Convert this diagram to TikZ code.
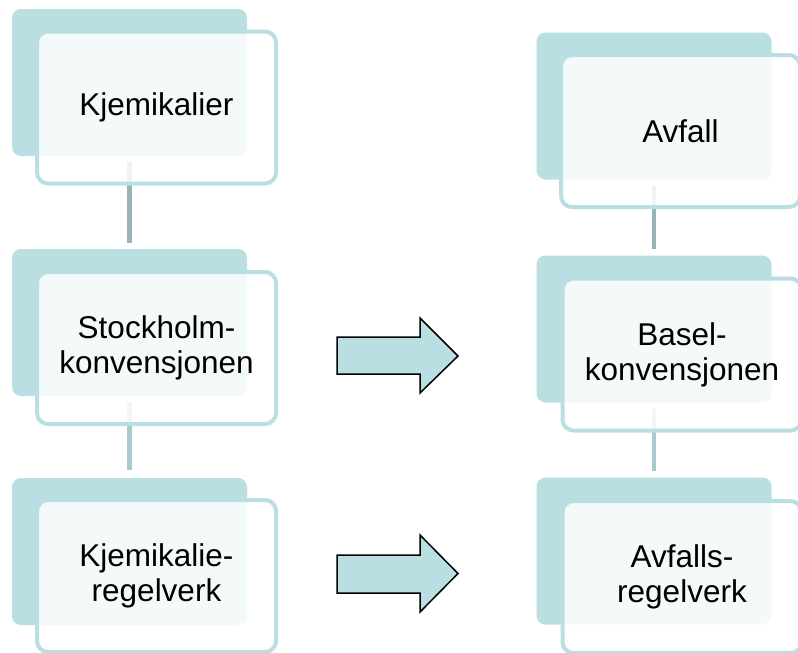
\documentclass[tikz,border=0pt]{standalone}
\usepackage{fontspec}
\setmainfont{Liberation Sans}
\begin{document}
\begin{tikzpicture}[x=1pt,y=-1pt,
  backbox/.style={rectangle, rounded corners=9pt, fill=tealA, draw=none,
    minimum width=235pt, minimum height=147pt, inner sep=0pt},
  frontbox/.style={rectangle, rounded corners=11pt, draw=tealA, line width=4pt,
    fill=white, fill opacity=0.85, text opacity=1, minimum width=239pt,
    minimum height=152pt, inner sep=0pt, align=center,
    font=\fontsize{31.5}{35}\selectfont},
  connA/.style={draw=connGray, line width=4.5pt},
  connB/.style={draw=connTeal, line width=4.5pt},
  bigarrow/.style={fill=tealA, draw=black, line width=1.5pt, line join=miter}
]
\definecolor{tealA}{HTML}{B9DFE2}
\definecolor{connGray}{HTML}{99B4B8}
\definecolor{connTeal}{HTML}{A6CBCF}
\useasboundingbox (0,0) rectangle (798,653);
\fill[white] (0,0) rectangle (798,653);

% back boxes
\node[backbox] (lb1) at (129.5,82.5) {};
\node[backbox] (lb2) at (129.5,322.5) {};
\node[backbox] (lb3) at (129.5,551.5) {};
\node[backbox] (rb1) at (654,106) {};
\node[backbox] (rb2) at (654,329) {};
\node[backbox] (rb3) at (654,551) {};

% connectors
\draw[connA] ([yshift=-6pt]lb1.south) -- ([yshift=6pt]lb2.north);
\draw[connB] ([yshift=-6pt]lb2.south) -- ([yshift=8pt]lb3.north);
\draw[connA] ([yshift=-6pt]rb1.south) -- ([yshift=6pt]rb2.north);
\draw[connB] ([yshift=-6pt]rb2.south) -- ([yshift=6pt]rb3.north);

% front boxes
\node[frontbox] (lf1) at (156.5,107.5) {Kjemikalier};
\node[frontbox] (lf2) at (156.5,348) {Stockholm-\\konvensjonen};
\node[frontbox] (lf3) at (156.5,576) {Kjemikalie-\\regelverk};
\node[frontbox] (rf1) at (680.5,131) {Avfall};
\node[frontbox] (rf2) at (682,354.5) {Basel-\\konvensjonen};
\node[frontbox] (rf3) at (682,577) {Avfalls-\\regelverk};

% block arrows
\draw[bigarrow] (337,337) -- (420,337) -- (420,318) -- (458,356) -- (420,393)
  -- (420,374) -- (337,374) -- cycle;
\draw[bigarrow] (337,555) -- (420,555) -- (420,535) -- (458,573.5) -- (420,612)
  -- (420,593) -- (337,593) -- cycle;
\end{tikzpicture}
\end{document}
